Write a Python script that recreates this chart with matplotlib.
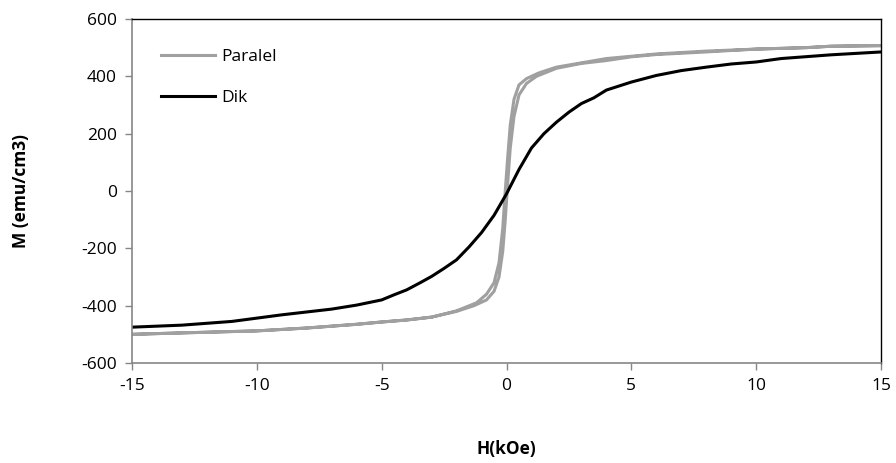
import numpy as np
import matplotlib
matplotlib.use("Agg")
import matplotlib.pyplot as plt

# -----------------------------
# Data
# -----------------------------

# Paralel: descending branch (field from +15 to -15)
par_down_h = [15, 13, 12, 10, 8, 6, 5, 4, 3, 2, 1.3, 0.8, 0.5, 0.3, 0.15, 0.05, -0.05, -0.15, -0.3, -0.5, -0.8, -1.2, -2, -3, -4, -5, -6, -8, -10, -13, -15]
par_down_m = [507, 505, 500, 495, 488, 478, 470, 462, 447, 432, 412, 392, 370, 320, 230, 120, 0, -130, -250, -320, -360, -390, -418, -440, -450, -457, -465, -478, -488, -495, -500]

# Paralel: ascending branch (field from -15 to +15)
par_up_h = [-15, -13, -10, -8, -6, -5, -4, -3, -2, -1.3, -0.8, -0.5, -0.3, -0.15, -0.05, 0.05, 0.15, 0.3, 0.5, 0.8, 1.2, 2, 3, 4, 5, 6, 8, 10, 12, 13, 15]
par_up_m = [-500, -495, -488, -478, -465, -457, -450, -440, -420, -400, -380, -350, -300, -210, -100, 30, 150, 260, 335, 375, 400, 428, 445, 455, 468, 476, 485, 495, 500, 505, 507]

# Dik
dik_h = [-15, -13, -11, -9, -7, -6, -5, -4.5, -4, -3.5, -3, -2.5, -2, -1.5, -1, -0.5, 0, 0.5, 1, 1.5, 2, 2.5, 3, 3.5, 4, 5, 6, 7, 8, 9, 10, 11, 13, 15]
dik_m = [-475, -468, -455, -432, -412, -398, -380, -362, -345, -322, -298, -270, -240, -195, -145, -85, -10, 75, 150, 200, 240, 275, 305, 325, 352, 380, 403, 420, 432, 443, 450, 462, 475, 485]

x_ticks = [-15, -10, -5, 0, 5, 10, 15]
y_ticks = [-600, -400, -200, 0, 200, 400, 600]

GRAY = "#a0a0a0"
AXIS_GRAY = "#868686"

plt.rcParams["font.family"] = ["Open Sans", "DejaVu Sans"]
plt.rcParams["axes.unicode_minus"] = False

fig = plt.figure(figsize=(8.96, 4.63), dpi=100)
ax = fig.add_axes([0.1473, 0.216, 0.836, 0.743])

ax.plot(par_down_h + par_up_h, par_down_m + par_up_m, color=GRAY, lw=2.2, label="Paralel",
        solid_joinstyle="round")
ax.plot(dik_h, dik_m, color="black", lw=2.2, label="Dik", solid_joinstyle="round")

ax.set_xlim(-15, 15)
ax.set_ylim(-600, 600)
ax.set_xticks(x_ticks)
ax.set_yticks(y_ticks)
ax.tick_params(direction="out", length=5, width=1, color=AXIS_GRAY, labelsize=12.5, pad=6)

for side in ["left", "bottom"]:
    ax.spines[side].set_color(AXIS_GRAY)
    ax.spines[side].set_linewidth(1.2)
for side in ["top", "right"]:
    ax.spines[side].set_color("black")
    ax.spines[side].set_linewidth(1.0)

ax.set_xlabel("H(kOe)", fontsize=12.5, fontweight="bold", labelpad=33)
ax.set_ylabel("M (emu/cm3)", fontsize=12.5, fontweight="bold", labelpad=37)

leg = ax.legend(loc="upper left", bbox_to_anchor=(0.027, 0.937), frameon=False, fontsize=12.5,
                borderpad=0, handlelength=3.1, handletextpad=0.35, labelspacing=1.4)

fig.savefig("out.png", dpi=100)
